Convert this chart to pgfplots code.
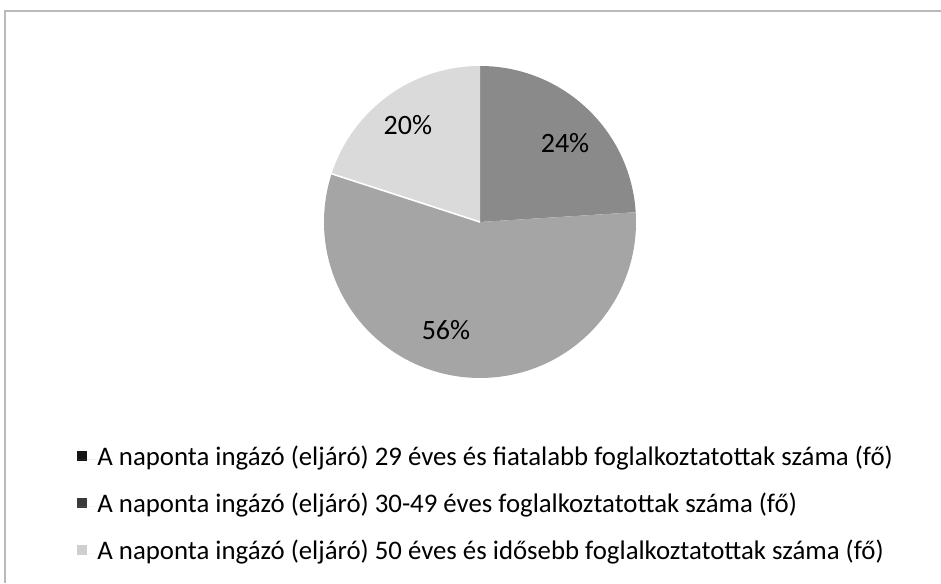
\documentclass[border=0pt]{standalone}
\usepackage{pgfplots}
\pgfplotsset{compat=1.18}
\usepackage{pgfplotstable}
\usepackage{fontspec}
\setmainfont{Carlito}

\pgfplotstableread{
share
24
56
20
}\piedata

\definecolor{sliceA}{HTML}{8A8A8A}
\definecolor{sliceB}{HTML}{A5A5A5}
\definecolor{sliceC}{HTML}{DADADA}
\definecolor{legA}{HTML}{151515}
\definecolor{legB}{HTML}{3A3A3A}
\definecolor{legC}{HTML}{CFCFCF}

\begin{document}
\begin{tikzpicture}
\useasboundingbox (0,0) rectangle (470.5pt,291.5pt);
\draw[gray!55, line width=0.6pt] (2.5pt,0) -- (2.5pt,286pt) -- (470.5pt,286pt);
\pgfplotstablegetelem{0}{share}\of\piedata \edef\va{\pgfplotsretval}
\pgfplotstablegetelem{1}{share}\of\piedata \edef\vb{\pgfplotsretval}
\pgfplotstablegetelem{2}{share}\of\piedata \edef\vc{\pgfplotsretval}
\pgfmathsetmacro\aA{90}
\pgfmathsetmacro\aB{90-3.6*\va}
\pgfmathsetmacro\aC{\aB-3.6*\vb}
\pgfmathsetmacro\aD{\aC-3.6*\vc}
\begin{axis}[
  x=78pt, y=78pt,
  hide axis,
  xmin=-1, xmax=1, ymin=-1, ymax=1,
  at={(240pt,180.5pt)}, anchor=origin,
  clip=false,
  legend cell align=left,
  legend style={
    at={(axis description cs:-0.811,-0.2036)}, anchor=north west,
    draw=none, fill=none,
    font=\fontsize{13.4}{15}\selectfont,
    row sep=10pt,
    nodes={inner sep=0pt, text height=10pt, text depth=3.5pt},
  },
]
\addplot[fill=sliceA, draw=none, data cs=polar,
  legend image code/.code={\fill[legA] (0pt,-1pt) rectangle (5pt,4pt); \path (0pt,0pt) -- (10pt,0pt);}]
  coordinates {(0,0) (\aA,1)} arc[start angle=\aA, end angle=\aB, radius=78pt] -- cycle;
\addplot[fill=sliceB, draw=none, data cs=polar,
  legend image code/.code={\fill[legB] (0pt,-1pt) rectangle (5pt,4pt); \path (0pt,0pt) -- (10pt,0pt);}]
  coordinates {(0,0) (\aB,1)} arc[start angle=\aB, end angle=\aC, radius=78pt] -- cycle;
\addplot[fill=sliceC, draw=none, data cs=polar,
  legend image code/.code={\fill[legC] (0pt,-1pt) rectangle (5pt,4pt); \path (0pt,0pt) -- (10pt,0pt);}]
  coordinates {(0,0) (\aC,1)} arc[start angle=\aC, end angle=\aD, radius=78pt] -- cycle;
\draw[white, line width=0.8pt] (axis cs:0,0) -- (axis cs:{cos(\aC)},{sin(\aC)});
\node[font=\fontsize{14}{16}\selectfont] at (axis cs:0.545,0.506) {24\%};
\node[font=\fontsize{14}{16}\selectfont] at (axis cs:-0.462,0.622) {20\%};
\node[font=\fontsize{14}{16}\selectfont] at (axis cs:-0.218,-0.692) {56\%};
\legend{A naponta ingázó (eljáró) 29 éves és fiatalabb foglalkoztatottak száma (fő),
        A naponta ingázó (eljáró) 30-49 éves foglalkoztatottak száma (fő),
        A naponta ingázó (eljáró) 50 éves és idősebb foglalkoztatottak száma (fő)}
\end{axis}
\end{tikzpicture}
\end{document}
